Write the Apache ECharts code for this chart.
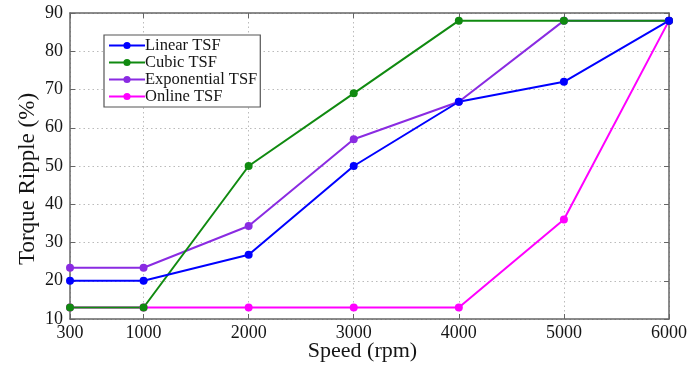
<!DOCTYPE html>
<html>
<head>
<meta charset="utf-8">
<script src="https://cdn.jsdelivr.net/npm/echarts@6/dist/echarts.min.js"></script>
<style>
  html, body { margin: 0; padding: 0; background: #fff; }
  #chart { width: 693px; height: 366px; }
</style>
</head>
<body>
<div id="chart"></div>
<script>
// Motor speed (rpm) at which torque ripple was measured
const speeds = [300, 1000, 2000, 3000, 4000, 5000, 6000];
const xTicks = [300, 1000, 2000, 3000, 4000, 5000, 6000];

// Torque ripple (%) for each torque-sharing function
const linearTSF = [20, 20, 26.8, 50, 66.8, 72, 88];
const cubicTSF = [13, 13, 50, 69, 88, 88, 88];
const exponentialTSF = [23.4, 23.4, 34.3, 57, 66.8, 88, 88];
const onlineTSF = [13, 13, 13, 13, 13, 36, 88];

const seriesNames = ['Linear TSF', 'Cubic TSF', 'Exponential TSF', 'Online TSF'];
const seriesColors = ['#0000ff', '#108a10', '#8a2be2', '#ff00ff'];
const seriesValues = [linearTSF, cubicTSF, exponentialTSF, onlineTSF];

const font = '"Liberation Serif", "Times New Roman", serif';
const textColor = '#151515';

function pairs(values) {
  return speeds.map((s, i) => [s, values[i]]);
}

// Later series paint over earlier ones, so build them back to front
const series = [];
for (let i = seriesNames.length - 1; i >= 0; i--) {
  series.push({
    name: seriesNames[i],
    type: 'line',
    data: pairs(seriesValues[i]),
    symbol: 'circle',
    symbolSize: 8,
    lineStyle: { width: 2, color: seriesColors[i] },
    itemStyle: { color: seriesColors[i] },
    emphasis: { disabled: true },
    animation: false
  });
}

const plainNumber = v => String(v);

const chart = echarts.init(document.getElementById('chart'));
chart.setOption({
  backgroundColor: '#fff',
  animation: false,
  grid: { left: 70, right: 24, top: 13, bottom: 47, containLabel: false, outerBoundsMode: 'none' },
  legend: {
    data: seriesNames,
    orient: 'vertical',
    left: 104,
    top: 35,
    itemWidth: 36,
    itemHeight: 9,
    itemGap: 0,
    padding: [2, 3, 2, 4],
    borderColor: '#555',
    borderWidth: 1.2,
    backgroundColor: '#fff',
    textStyle: { fontFamily: font, fontSize: 16.5, color: textColor, padding: [0, 0, 0, -5], lineHeight: 16.5 }
  },
  xAxis: [{
    type: 'value',
    min: 300,
    max: 6000,
    name: 'Speed (rpm)',
    nameLocation: 'middle',
    nameGap: 21,
    nameMoveOverlap: false,
    nameTextStyle: { fontFamily: font, fontSize: 22, color: textColor, padding: [0, 14, 0, 0] },
    axisLine: { lineStyle: { color: '#666', width: 1.5 } },
    axisTick: { inside: true, length: 5, customValues: xTicks, lineStyle: { color: '#666' } },
    axisLabel: { customValues: xTicks, formatter: plainNumber, fontFamily: font, fontSize: 18, color: textColor, margin: 5 },
    splitLine: { show: true, lineStyle: { color: '#bbb', type: [1.5, 3], width: 1 } }
  }, {
    type: 'value',
    position: 'top',
    min: 300,
    max: 6000,
    axisLine: { lineStyle: { color: '#666', width: 1.5 } },
    axisTick: { inside: true, length: 5, customValues: xTicks, lineStyle: { color: '#666' } },
    axisLabel: { show: false },
    splitLine: { show: false }
  }],
  yAxis: [{
    type: 'value',
    min: 10,
    max: 90,
    interval: 10,
    name: 'Torque Ripple (%)',
    nameLocation: 'middle',
    nameGap: 31,
    nameMoveOverlap: false,
    nameTextStyle: { fontFamily: font, fontSize: 23, color: textColor, padding: [0, 26, 0, 0] },
    axisLine: { show: true, lineStyle: { color: '#666', width: 1.5 } },
    axisTick: { show: true, inside: true, length: 5, lineStyle: { color: '#666' } },
    axisLabel: { formatter: plainNumber, fontFamily: font, fontSize: 18, color: textColor, margin: 7 },
    splitLine: { show: true, lineStyle: { color: '#bbb', type: [1.5, 3], width: 1 } }
  }, {
    type: 'value',
    position: 'right',
    min: 10,
    max: 90,
    interval: 10,
    axisLine: { show: true, lineStyle: { color: '#666', width: 1.5 } },
    axisTick: { show: true, inside: true, length: 5, lineStyle: { color: '#666' } },
    axisLabel: { show: false },
    splitLine: { show: false }
  }],
  series: series
});
</script>
</body>
</html>
